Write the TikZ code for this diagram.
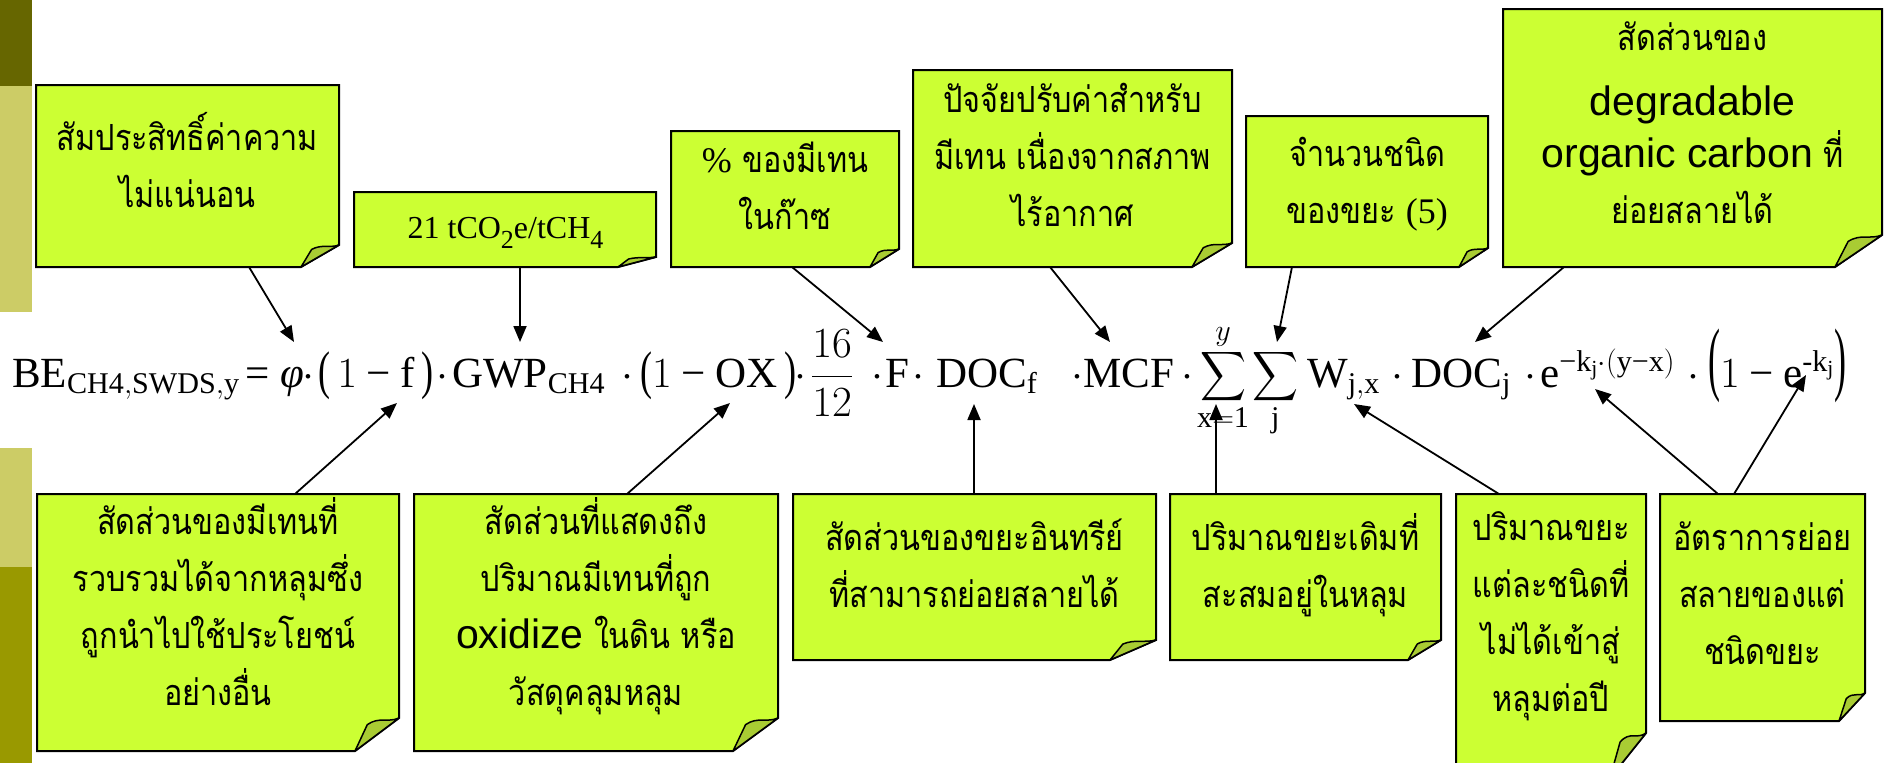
\RequirePackage{fix-cm}
\documentclass[tikz,border=0pt]{standalone}
\usepackage{amsmath}
\usepackage{fontspec}
\usepackage{graphicx}
\setmainfont{Liberation Serif}
\newfontfamily\thai[Script=Thai,FakeStretch=0.85]{Loma}
\newfontfamily\arial{Liberation Sans}
\usetikzlibrary{arrows.meta}
\definecolor{notefill}{HTML}{CCFF33}
\definecolor{flapfill}{HTML}{A9CC33}
\definecolor{bardark}{HTML}{666600}
\definecolor{barkhaki}{HTML}{CCCC66}
\definecolor{barolive}{HTML}{999900}
\newcommand\ts{\rule[-19pt]{0pt}{57pt}}
\newcommand\sanspart[1]{{\arial\fontsize{41}{57}\selectfont #1}}
\newcommand\bsum{\mathop{\vcenter{\hbox{\resizebox*{46pt}{55pt}{$\displaystyle\sum$}}}}\limits}
\newcommand\mminus{\mathbin{\text{−}}}
\newcommand\plp[2]{\mathopen{\raisebox{#2}{$\vcenter{\hbox{\resizebox*{12pt}{#1}{(}}}$}}}
\newcommand\prp[2]{\mathclose{\raisebox{#2}{$\vcenter{\hbox{\resizebox*{12pt}{#1}{)}}}$}}}
\newcommand\subnum[1]{\raisebox{-10pt}{\fontsize{26}{26}\selectfont #1}}
\newcommand\drawnote[3]{%
 \draw[notebody] (#1.north west) -- (#1.north east) -- ([yshift=#3]#1.south east) -- ([xshift=-#2]#1.south east) -- (#1.south west) -- cycle;
 \draw[noteflap] ([xshift=-#2]#1.south east) -- ([xshift=-0.72*#2,yshift=0.8*#3]#1.south east) .. controls ([xshift=-0.45*#2,yshift=1.05*#3]#1.south east) and ([xshift=-0.25*#2,yshift=0.85*#3]#1.south east) .. ([yshift=#3]#1.south east) -- cycle;}
\tikzset{
 notebox/.style={anchor=north west, inner sep=0pt, outer sep=0pt, draw=none, rectangle},
 notebody/.style={fill=notefill, draw=black, line width=2pt, line join=miter},
 noteflap/.style={fill=flapfill, draw=black, line width=1.5pt, line join=round},
 ttext/.style={font=\thai\fontsize{36}{57}\selectfont, align=center, inner sep=0pt, text=black},
 eqp/.style={anchor=base west, inner sep=0pt, font=\fontsize{43}{56}\selectfont},
 eqdot/.style={anchor=base, inner sep=0pt, font=\fontsize{43}{56}\selectfont},
 arr/.style={draw=black, line width=1.8pt, -{Triangle[length=16pt,width=13pt]}}
}
\begin{document}
\begin{tikzpicture}[x=1pt,y=-1pt]
\useasboundingbox (0,0) rectangle (1885,763);
\clip (0,0) rectangle (1885,763);
% side bar
\fill[bardark] (0,0) rectangle (32,86);
\fill[barkhaki] (0,86) rectangle (32,312);
\fill[barkhaki] (0,448) rectangle (32,567);
\fill[barolive] (0,567) rectangle (32,763);
% formula, piece by piece on baseline y=387
\node[eqp] (e1) at (12,387) {$\mathrm{BE}_{\mathrm{CH4,SWDS,y}}$};
\node[eqp] (eeq) at (245,387) {=};
\node[eqp] (ephi) at (280,387) {\itshape φ};
\node[eqp] (e2) at (318,387) {$\plp{48pt}{0pt}\,1\mminus\mathrm{f}\,\prp{48pt}{0pt}$};
\node[eqp] (e3) at (452,387) {$\mathrm{GWP}_{\mathrm{CH4}}$};
\node[eqp] (e4) at (640,387) {$\plp{48pt}{0pt}1\mminus\mathrm{OX}\,\prp{48pt}{0pt}$};
\node[eqp] (e5) at (811,387) {$\displaystyle\frac{16}{12}$};
\node[eqp] (e6) at (885,387) {$\mathrm{F}$};
\node[eqp] (e7) at (936,387) {$\mathrm{DOC}_{\mathrm{f}}$};
\node[eqp] (e8) at (1083,387) {$\mathrm{MCF}$};
\node[eqp] (e9) at (1197,387) {$\displaystyle\bsum_{\mathrm{x=1}}^{y}$};
\node[eqp] (e10) at (1252,387) {$\displaystyle\bsum_{\mathrm{j}}$};
\node[eqp] (e11) at (1307,387) {$\mathrm{W}_{\mathrm{j,x}}$};
\node[eqp] (e12) at (1411,387) {$\mathrm{DOC}_{\mathrm{j}}$};
\node[eqp] (e13) at (1540,387) {$\mathrm{e}^{\text{−}\mathrm{k}_{\mathrm{j}}\cdot(\mathrm{y}\text{−}\mathrm{x})}$};
\node[eqp] (e14) at (1708,387) {$\plp{74pt}{10pt}1\mminus\mathrm{e}^{\text{-}\mathrm{k}_{\mathrm{j}}}\prp{74pt}{10pt}$};
\foreach \dx [count=\i] in {308,442,627,800,877,918,1077,1187,1397,1530,1693}
  \node[eqdot] (dot\i) at (\dx,387) {$\cdot$};
% arrow targets
\coordinate (phi) at (294,342);
\coordinate (gwp) at (520,342);
\coordinate (ff) at (883,342);
\coordinate (mcf) at (1110,342);
\coordinate (sum) at (1277,342);
\coordinate (docj) at (1475,342);
\coordinate (onef) at (397,403);
\coordinate (oneox) at (730,403);
\coordinate (docf) at (974,404);
\coordinate (xone) at (1216,404);
\coordinate (wjx) at (1354,404);
\coordinate (expyx) at (1595,389);
\coordinate (expk) at (1806,375);
% top notes
\node[notebox, minimum width=303pt, minimum height=182pt] (t1) at (36,85) {};
\drawnote{t1}{38pt}{22pt}
\node[notebox, minimum width=302pt, minimum height=75pt] (t2) at (354,192) {};
\drawnote{t2}{38pt}{10pt}
\node[notebox, minimum width=228pt, minimum height=136pt] (t3) at (671,131) {};
\drawnote{t3}{29pt}{18pt}
\node[notebox, minimum width=319pt, minimum height=197pt] (t4) at (913,70) {};
\drawnote{t4}{40pt}{24pt}
\node[notebox, minimum width=242pt, minimum height=151pt] (t5) at (1246,116) {};
\drawnote{t5}{29pt}{19pt}
\node[notebox, minimum width=379pt, minimum height=258pt] (t6) at (1503,9) {};
\drawnote{t6}{47pt}{32pt}
% bottom notes
\node[notebox, minimum width=362pt, minimum height=257pt] (b1) at (37,494) {};
\drawnote{b1}{44pt}{33pt}
\node[notebox, minimum width=364pt, minimum height=257pt] (b2) at (414,494) {};
\drawnote{b2}{45pt}{33pt}
\node[notebox, minimum width=363pt, minimum height=166pt] (b3) at (793,494) {};
\drawnote{b3}{46pt}{20pt}
\node[notebox, minimum width=271pt, minimum height=166pt] (b4) at (1170,494) {};
\drawnote{b4}{33pt}{20pt}
\node[notebox, minimum width=190pt, minimum height=284pt] (b5) at (1456,494) {};
\drawnote{b5}{36pt}{45pt}
\node[notebox, minimum width=205pt, minimum height=227pt] (b6) at (1660,494) {};
\drawnote{b6}{26pt}{28pt}
% texts
\node[ttext] (t1x) at (187.5,169.5) {\ts สัมประสิทธิ์ค่าความ\\\ts ไม่แน่นอน};
\node[anchor=base, inner sep=0pt, font=\fontsize{32}{40}\selectfont] (t2x) at (505.5,238) {21 tCO\subnum{2}e/tCH\subnum{4}};
\node[ttext] (t3x) at (785,191.5) {\ts{\rmfamily\%} ของมีเทน\\\ts ในก๊าซ};
\node[ttext] (t4x) at (1072.5,160) {\ts ปัจจัยปรับค่าสำหรับ\\\ts มีเทน เนื่องจากสภาพ\\\ts ไร้อากาศ};
\node[ttext] (t5x) at (1367,185.5) {\ts จำนวนชนิด\\\ts ของขยะ {\rmfamily (5)}};
\node[ttext, anchor=north] (t6x) at (1692.5,12) {\ts สัดส่วนของ\\[8pt]\ts\sanspart{degradable}\\[-5pt]\ts\sanspart{organic carbon} ที่\\[-1pt]\ts ย่อยสลายได้};
\node[ttext] (b1x) at (218,610.75) {\ts สัดส่วนของมีเทนที่\\\ts รวบรวมได้จากหลุมซึ่ง\\\ts ถูกนำไปใช้ประโยชน์\\\ts อย่างอื่น};
\node[ttext] (b2x) at (596,610.75) {\ts สัดส่วนที่แสดงถึง\\\ts ปริมาณมีเทนที่ถูก\\\ts\sanspart{oxidize} ในดิน หรือ\\\ts วัสดุคลุมหลุม};
\node[ttext] (b3x) at (974.5,569) {\ts สัดส่วนของขยะอินทรีย์\\\ts ที่สามารถย่อยสลายได้};
\node[ttext] (b4x) at (1305.5,569) {\ts ปริมาณขยะเดิมที่\\\ts สะสมอยู่ในหลุม};
\node[ttext] (b5x) at (1551,616.5) {\ts ปริมาณขยะ\\\ts แต่ละชนิดที่\\\ts ไม่ได้เข้าสู่\\\ts หลุมต่อปี};
\node[ttext] (b6x) at (1762.5,598) {\ts อัตราการย่อย\\\ts สลายของแต่\\\ts ชนิดขยะ};
% connectors
\draw[arr] ([xshift=213pt]t1.south west) -- (phi);
\draw[arr] ([xshift=166pt]t2.south west) -- (gwp);
\draw[arr] ([xshift=121pt]t3.south west) -- (ff);
\draw[arr] ([xshift=137pt]t4.south west) -- (mcf);
\draw[arr] ([xshift=46pt]t5.south west) -- (sum);
\draw[arr] ([xshift=61pt]t6.south west) -- (docj);
\draw[arr] ([xshift=258pt]b1.north west) -- (onef);
\draw[arr] ([xshift=213pt]b2.north west) -- (oneox);
\draw[arr] ([xshift=181pt]b3.north west) -- (docf);
\draw[arr] ([xshift=46pt]b4.north west) -- (xone);
\draw[arr] ([xshift=43pt]b5.north west) -- (wjx);
\draw[arr] ([xshift=58pt]b6.north west) -- (expyx);
\draw[arr] ([xshift=74pt]b6.north west) -- (expk);
\end{tikzpicture}
\end{document}
